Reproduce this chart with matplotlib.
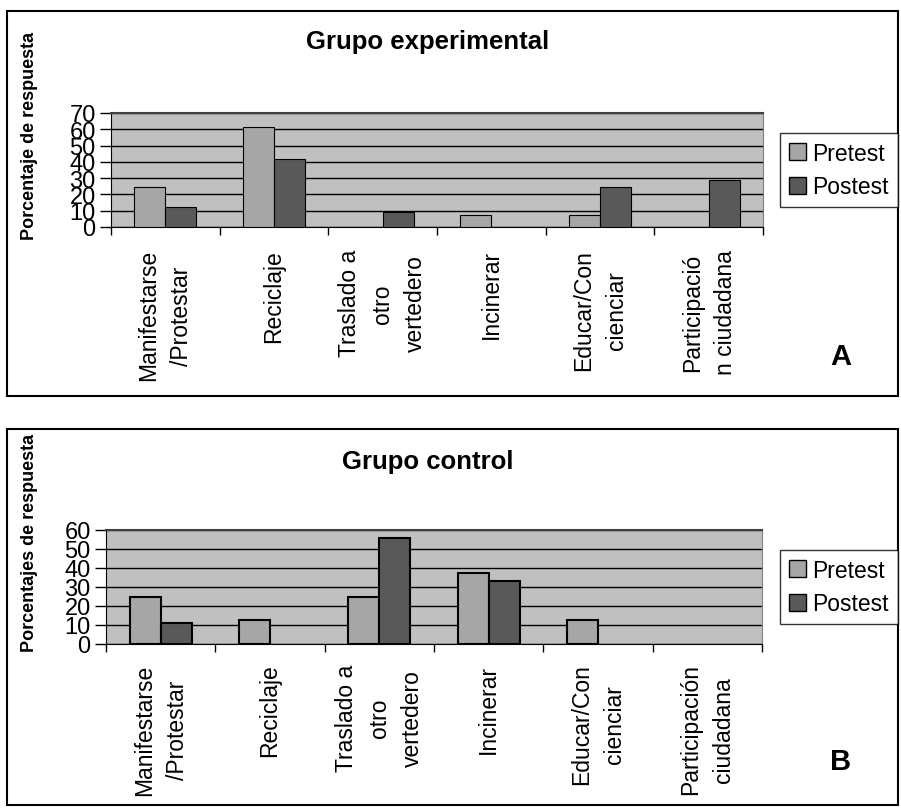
import matplotlib
matplotlib.use("Agg")
import matplotlib.pyplot as plt
from matplotlib.patches import Rectangle, Patch
import numpy as np

plt.rcParams['font.family'] = ['Liberation Sans', 'DejaVu Sans']

# categorías de respuesta
cats_a = ["Manifestarse\n/Protestar", "Reciclaje", "Traslado a\notro\nvertedero",
          "Incinerar", "Educar/Con\ncienciar", "Participació\nn ciudadana"]
cats_b = ["Manifestarse\n/Protestar", "Reciclaje", "Traslado a\notro\nvertedero",
          "Incinerar", "Educar/Con\ncienciar", "Participación\nciudadana"]

# Grupo experimental (%)
pre_a = [24.5, 61.5, 0, 7.5, 7.5, 0]
post_a = [12.5, 41.5, 9.5, 0, 24.5, 29]
# Grupo control (%)
pre_b = [25, 12.5, 25, 37.5, 12.5, 0]
post_b = [11, 0, 56, 33, 0, 0]

W, H = 901, 812
fig = plt.figure(figsize=(W / 100, H / 100), dpi=100)

def fx(px):
    return px / W

def fy(py):
    return 1 - py / H

# marcos de cada panel
for top, bot in [(12, 397), (430, 806)]:
    fig.patches.append(Rectangle((fx(7), fy(bot)), fx(898) - fx(7), fy(top) - fy(bot),
                                 transform=fig.transFigure, fill=False,
                                 edgecolor='black', linewidth=1.5))

def panel(rect, cats, pre, post, ymax, title, ylabel, letter,
          title_y, ylab_y, letter_y, edge_lw, label_pad):
    ax = fig.add_axes(rect)
    x = np.arange(len(cats))
    w = 0.285
    ax.set_facecolor('#c0c0c0')
    # las barras con valor 0 no se dibujan
    ax.bar(x - w / 2, pre, w, color='#a6a6a6', edgecolor='black',
           linewidth=[edge_lw if v > 0 else 0 for v in pre], zorder=3)
    ax.bar(x + w / 2, post, w, color='#595959', edgecolor='black',
           linewidth=[edge_lw if v > 0 else 0 for v in post], zorder=3)
    ax.set_xlim(-0.5, len(cats) - 0.5)
    ax.set_ylim(0, ymax)
    ax.set_yticks(np.arange(0, ymax + 1, 10))
    ax.yaxis.grid(True, color='black', linewidth=1.0, zorder=1)
    ax.set_axisbelow(True)
    ax.tick_params(axis='y', direction='out', length=8, width=1, labelsize=17, pad=3)
    # separadores de categorías como ticks menores
    ax.set_xticks(np.arange(-0.5, len(cats)), minor=True)
    ax.set_xticks(x)
    ax.set_xticklabels(cats, rotation=90, va='top', ha='center',
                       multialignment='center', fontsize=16.5, linespacing=1.55)
    ax.tick_params(axis='x', which='major', length=0, pad=label_pad)
    ax.tick_params(axis='x', which='minor', direction='out', length=6, width=1)
    ax.spines['right'].set_color('#808080')
    ax.spines['top'].set_color('#404040')
    ax.spines['top'].set_linewidth(1.5)
    for s in ['left', 'bottom']:
        ax.spines[s].set_color('black')

    leg = fig.legend(handles=[Patch(facecolor='#a6a6a6', edgecolor='black', label='Pretest'),
                              Patch(facecolor='#595959', edgecolor='black', label='Postest')],
                     loc='center left',
                     bbox_to_anchor=(fx(780), rect[1] + rect[3] / 2),
                     fontsize=16.5, frameon=True, fancybox=False, shadow=False,
                     handlelength=0.75, handleheight=0.75, handletextpad=0.25,
                     borderpad=0.4, labelspacing=0.45, borderaxespad=0)
    leg.get_frame().set_edgecolor('black')
    leg.get_frame().set_linewidth(1.0)

    fig.text(fx(428), fy(title_y), title, ha='center', va='center',
             fontsize=18.5, fontweight='bold')
    fig.text(fx(30), fy(ylab_y), ylabel, rotation=90, ha='center', va='center',
             fontsize=13, fontweight='bold')
    fig.text(fx(841), fy(letter_y), letter, ha='center', va='center',
             fontsize=21, fontweight='bold')
    return ax

panel([fx(111), fy(228), fx(763) - fx(111), fy(114) - fy(228)],
      cats_a, pre_a, post_a, 70, "Grupo experimental", "Porcentaje de respuesta", "A",
      title_y=42, ylab_y=136, letter_y=357, edge_lw=0.8, label_pad=16)

panel([fx(106), fy(645), fx(762) - fx(106), fy(531) - fy(645)],
      cats_b, pre_b, post_b, 60, "Grupo control", "Porcentajes de respuesta", "B",
      title_y=462, ylab_y=543, letter_y=762, edge_lw=1.5, label_pad=14)

fig.savefig("out.png", dpi=100)
